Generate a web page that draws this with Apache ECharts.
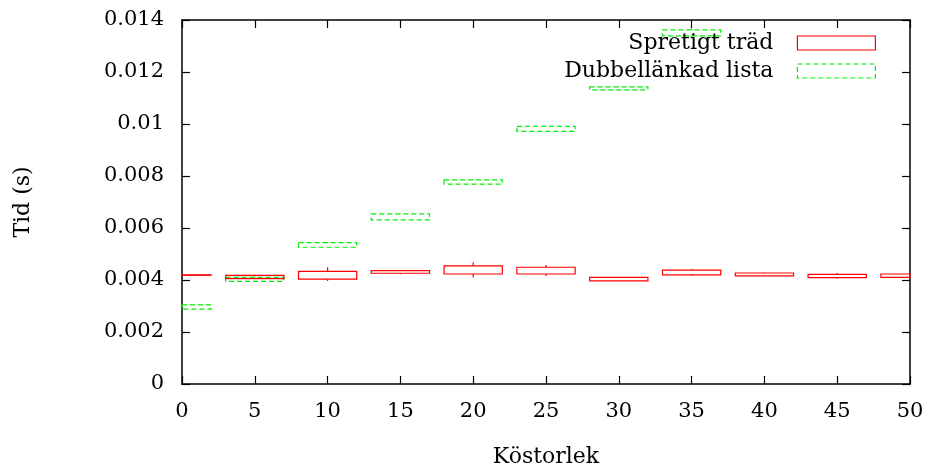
<!DOCTYPE html>
<html>
<head>
<meta charset="utf-8">
<script src="https://cdn.jsdelivr.net/npm/echarts@6/dist/echarts.min.js"></script>
<style>html,body{margin:0;padding:0;background:#fff}#c{width:935px;height:475px}</style>
</head>
<body>
<div id="c"></div>
<script>
// x positions (Köstorlek)
var sizes = [0, 5, 10, 15, 20, 25, 30, 35, 40, 45, 50];
// Spretigt träd: [low, q1, q3, high]
var treeLow  = [0.00417, 0.00404, 0.00396, 0.00422, 0.00410, 0.00415, 0.00396, 0.00416, 0.00415, 0.00406, 0.00409];
var treeQ1   = [0.00418, 0.00405, 0.00403, 0.00426, 0.00423, 0.00423, 0.00397, 0.00420, 0.00416, 0.00409, 0.00410];
var treeQ3   = [0.00420, 0.00418, 0.00433, 0.00436, 0.00454, 0.00449, 0.00410, 0.00438, 0.00427, 0.00422, 0.00423];
var treeHigh = [0.00421, 0.00420, 0.00449, 0.00438, 0.00468, 0.00458, 0.00412, 0.00442, 0.00429, 0.00427, 0.00425];
// Dubbellänkad lista
var listSizes = [0, 5, 10, 15, 20, 25, 30, 35];
var listLow  = [0.00287, 0.00394, 0.00525, 0.00630, 0.00768, 0.00970, 0.01130, 0.01334];
var listQ1   = [0.00288, 0.00395, 0.00526, 0.00631, 0.00769, 0.00972, 0.01131, 0.01339];
var listQ3   = [0.00304, 0.00410, 0.00544, 0.00654, 0.00785, 0.00991, 0.01143, 0.01362];
var listHigh = [0.00305, 0.00413, 0.00546, 0.00656, 0.00787, 0.00993, 0.01145, 0.01368];
var yTicks = [0, 0.002, 0.004, 0.006, 0.008, 0.01, 0.012, 0.014];
var boxWidth = 4;

function build(xs, lo, q1, q3, hi) {
  return xs.map(function (x, i) { return [x, lo[i], q1[i], q3[i], hi[i]]; });
}

function makeRender(color, dashed) {
  return function (params, api) {
    var cs = params.coordSys;
    var x = api.value(0);
    var left = api.coord([x - boxWidth / 2, api.value(2)]);
    var right = api.coord([x + boxWidth / 2, api.value(3)]);
    var pLow = api.coord([x, api.value(1)]);
    var pHigh = api.coord([x, api.value(4)]);
    var x0 = Math.max(left[0], cs.x), x1 = Math.min(right[0], cs.x + cs.width);
    var yTop = right[1], yBot = left[1];
    var style = { stroke: color, fill: 'none', lineWidth: 1.2, lineDash: dashed ? [5, 3] : null };
    var children = [
      { type: 'rect', shape: { x: x0, y: yTop, width: x1 - x0, height: yBot - yTop }, style: style }
    ];
    if (pLow[0] >= cs.x && pLow[0] <= cs.x + cs.width) {
      children.push({ type: 'line', shape: { x1: pLow[0], y1: yBot, x2: pLow[0], y2: pLow[1] }, style: { stroke: color, lineWidth: 1.2 } });
      children.push({ type: 'line', shape: { x1: pHigh[0], y1: yTop, x2: pHigh[0], y2: pHigh[1] }, style: { stroke: color, lineWidth: 1.2 } });
    }
    return { type: 'group', children: children };
  };
}

var font = 'DejaVu Serif';
var chart = echarts.init(document.getElementById('c'), null, { renderer: 'canvas' });
var axisLine = { show: true, onZero: false, lineStyle: { color: '#000', width: 1.5 } };
var tick = { show: true, inside: true, length: 8, lineStyle: { color: '#000', width: 1.2 } };
chart.setOption({
  animation: false,
  backgroundColor: '#fff',
  grid: { left: 182, right: 25, top: 20, bottom: 91 },
  legend: {
    orient: 'vertical',
    align: 'right',
    right: 54,
    top: 27,
    itemWidth: 78,
    itemHeight: 14,
    itemGap: 6,
    textStyle: { fontFamily: font, fontSize: 22, color: '#000', padding: [0, 19, 0, 0] },
    data: [
      { name: 'Spretigt träd', icon: 'rect', itemStyle: { color: 'rgba(0,0,0,0)', borderColor: '#ff0000', borderWidth: 1.2 } },
      { name: 'Dubbellänkad lista', icon: 'rect', itemStyle: { color: 'rgba(0,0,0,0)', borderColor: '#00ee00', borderWidth: 1.2, borderType: [5, 3] } }
    ]
  },
  xAxis: [{
    type: 'value', min: 0, max: 50, interval: 5,
    name: 'Köstorlek', nameLocation: 'middle', nameGap: 62,
    nameTextStyle: { fontFamily: font, fontSize: 22, color: '#000' },
    axisLine: axisLine, axisTick: tick, splitLine: { show: false },
    axisLabel: { fontFamily: font, fontSize: 21, color: '#000', margin: 17 }
  }, {
    type: 'value', min: 0, max: 50, interval: 5, position: 'top',
    axisLine: axisLine, axisTick: tick, splitLine: { show: false }, axisLabel: { show: false }
  }],
  yAxis: [{
    type: 'value', min: 0, max: 0.014, interval: 0.002,
    name: 'Tid (s)', nameLocation: 'middle', nameGap: 148, nameRotate: 90,
    nameTextStyle: { fontFamily: font, fontSize: 22, color: '#000' },
    axisLine: axisLine, axisTick: tick, splitLine: { show: false },
    axisLabel: { fontFamily: font, fontSize: 21, color: '#000', margin: 18,
      formatter: function (v) { var i = Math.round(v / 0.002); return String(yTicks[i]); } }
  }, {
    type: 'value', min: 0, max: 0.014, interval: 0.002, position: 'right',
    axisLine: axisLine, axisTick: tick, splitLine: { show: false }, axisLabel: { show: false }
  }],
  series: [{
    name: 'Spretigt träd', type: 'custom', xAxisIndex: 0, yAxisIndex: 0,
    itemStyle: { color: '#ff0000' },
    renderItem: makeRender('#ff0000', false),
    encode: { x: 0, y: [1, 2, 3, 4] },
    data: build(sizes, treeLow, treeQ1, treeQ3, treeHigh), z: 3
  }, {
    name: 'Dubbellänkad lista', type: 'custom', xAxisIndex: 0, yAxisIndex: 0,
    itemStyle: { color: '#00ee00' },
    renderItem: makeRender('#00ee00', true),
    encode: { x: 0, y: [1, 2, 3, 4] },
    data: build(listSizes, listLow, listQ1, listQ3, listHigh), z: 2
  }]
});
</script>
</body>
</html>
